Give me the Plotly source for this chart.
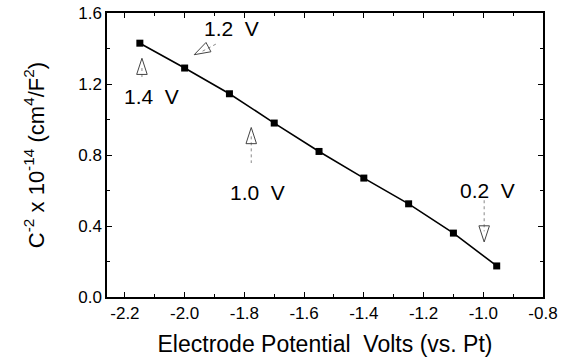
import plotly.graph_objects as go

# Mott-Schottky data: electrode potential (V vs. Pt) and C^-2 (x1e-14 cm^4/F^2)
potential = [-2.15, -2.00, -1.85, -1.70, -1.55, -1.40, -1.25, -1.10, -0.955]
inv_cap_sq = [1.43, 1.29, 1.145, 0.98, 0.82, 0.67, 0.525, 0.36, 0.175]

x_ticks = [-2.2, -2.0, -1.8, -1.6, -1.4, -1.2, -1.0, -0.8]
x_tick_text = ["-2.2", "-2.0", "-1.8", "-1.6", "-1.4", "-1.2", "-1.0", "-0.8"]
y_ticks = [0.0, 0.4, 0.8, 1.2, 1.6]
y_tick_text = ["0.0", "0.4", "0.8", "1.2", "1.6"]

# Voltage callouts: label text/position, open arrowhead position/angle, dotted stem ends
callout_text = ["1.4  V", "1.2  V", "1.0  V", "0.2  V"]
callout_tx = [-2.11, -1.843, -1.755, -0.985]
callout_ty = [1.13, 1.51, 0.59, 0.60]
head_x = [-2.143, -1.968, -1.777, -0.997]
head_y = [1.345, 1.365, 0.955, 0.31]
head_angle = [0, 242, 0, 180]
stem_x0 = [-2.143, -1.94, -1.777, -0.997]
stem_y0 = [1.29, 1.385, 0.905, 0.545]
stem_x1 = [-2.143, -1.895, -1.777, -0.997]
stem_y1 = [1.23, 1.425, 0.755, 0.37]

FONT = "Liberation Sans, Arial, Helvetica, sans-serif"

fig = go.Figure()

fig.add_trace(go.Scatter(
    x=potential, y=inv_cap_sq, mode="lines+markers",
    line=dict(color="black", width=1.6),
    marker=dict(symbol="square", size=7, color="black"),
    showlegend=False, hoverinfo="skip",
))

# dotted stems
for x0, y0, x1, y1 in zip(stem_x0, stem_y0, stem_x1, stem_y1):
    fig.add_trace(go.Scatter(
        x=[x0, x1], y=[y0, y1], mode="lines",
        line=dict(color="#888888", width=1, dash="dot"),
        showlegend=False, hoverinfo="skip",
    ))

# open arrowheads
fig.add_trace(go.Scatter(
    x=head_x, y=head_y, mode="markers",
    marker=dict(symbol="arrow-open", size=17, angle=head_angle,
                color="#444444", line=dict(width=1, color="#444444")),
    showlegend=False, hoverinfo="skip",
))

for t, x, y in zip(callout_text, callout_tx, callout_ty):
    fig.add_annotation(x=x, y=y, text=t, showarrow=False,
                       font=dict(family=FONT, size=21, color="black"))

axis_common = dict(
    showline=True, linecolor="black", linewidth=1.5, mirror="ticks",
    ticks="inside", ticklen=5, tickwidth=1, tickcolor="black",
    showgrid=False, zeroline=False, automargin=False,
    tickfont=dict(family=FONT, size=17, color="black"),
)

fig.update_xaxes(
    range=[-2.26, -0.8], tickvals=x_ticks, ticktext=x_tick_text,
    minor=dict(dtick=0.1, tick0=-2.2, ticks="inside", ticklen=3, tickcolor="black"),
    title=dict(text="Electrode Potential  Volts (vs. Pt)",
               font=dict(family=FONT, size=23, color="black"), standoff=14),
    **axis_common,
)
fig.update_yaxes(
    range=[0, 1.6], tickvals=y_ticks, ticktext=y_tick_text,
    minor=dict(dtick=0.2, tick0=0, ticks="inside", ticklen=3, tickcolor="black"),
    title=dict(text="C<sup>-2</sup> x 10<sup>-14</sup> (cm<sup>4</sup>/F<sup>2</sup>)",
               font=dict(family=FONT, size=22, color="black"), standoff=28),
    **axis_common,
)

fig.update_layout(
    width=564, height=359,
    margin=dict(l=107, r=21, t=13, b=62),
    paper_bgcolor="white", plot_bgcolor="white",
)

fig.write_html("out.html")
